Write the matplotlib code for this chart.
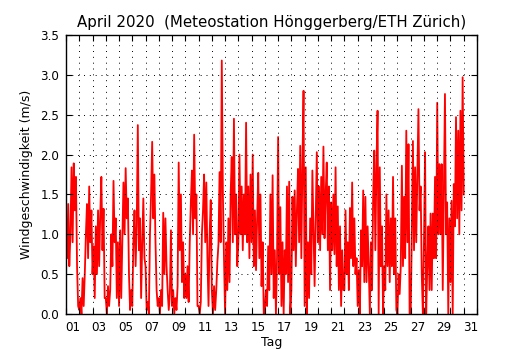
import numpy as np
import matplotlib
matplotlib.use('Agg')
import matplotlib.pyplot as plt
from matplotlib.ticker import MultipleLocator, FixedLocator, FixedFormatter, NullFormatter, FormatStrFormatter

apr01_05 = [1.2, 0.7, 1.38, 0.6, 1.0, 1.84, 0.9, 1.89, 1.3, 1.72, 0.6, 0.1,
            0.05, 0.2, 0.0, 0.45, 0.1, 0.5, 1.0, 1.38, 0.7, 1.6, 0.9, 1.3,
            0.5, 0.85, 0.2, 1.1, 0.5, 1.3, 0.6, 1.25, 1.72, 0.8, 1.32, 0.2,
            0.2, 0.0, 0.35, 0.1, 0.3, 1.0, 0.6, 1.67, 0.9, 1.2, 0.2, 0.9,
            0.1, 1.05, 0.2, 0.9, 1.65, 1.0, 1.83, 1.2, 1.45, 0.5, 0.05, 0.3]
apr06_10 = [0.1, 0.9, 1.3, 0.6, 1.1, 2.37, 0.8, 1.2, 0.2, 0.9, 1.45, 0.7,
            0.6, 0.05, 0.15, 0.0, 1.0, 1.5, 2.16, 1.2, 1.75, 0.9, 0.3, 0.1,
            0.2, 0.0, 0.3, 0.1, 1.27, 0.5, 1.2, 0.6, 0.3, 0.05, 0.25, 1.05,
            0.1, 0.3, 0.0, 0.2, 0.05, 0.35, 1.9, 0.8, 1.5, 0.4, 0.9, 0.2,
            0.5, 0.2, 0.6, 0.15, 0.9, 1.4, 1.8, 1.0, 2.25, 1.2, 1.5, 0.1]
apr11_15 = [0.1, 0.0, 0.15, 1.0, 1.3, 1.75, 0.9, 1.65, 0.7, 0.1, 1.0, 1.43,
            0.3, 0.0, 0.35, 0.05, 0.3, 0.65, 0.88, 1.78, 0.9, 3.18, 1.5, 0.7,
            0.0, 0.9, 0.3, 1.2, 0.4, 1.5, 1.97, 0.9, 2.45, 1.0, 1.5, 0.6,
            0.9, 2.0, 1.0, 1.6, 0.8, 1.5, 1.0, 2.4, 0.9, 1.6, 0.7, 1.75,
            0.9, 2.0, 0.6, 1.3, 0.55, 1.2, 1.77, 0.7, 1.5, 0.35, 0.9, 0.0]
apr16_20 = [0.05, 0.3, 0.1, 0.85, 0.3, 1.5, 0.5, 1.74, 0.2, 0.8, 0.0, 0.7,
            2.22, 0.5, 1.34, 0.1, 0.9, 0.0, 0.8, 0.5, 1.6, 0.4, 1.66, 0.0,
            0.3, 1.47, 0.8, 1.55, 0.6, 1.3, 1.82, 0.9, 2.11, 0.7, 1.88, 2.8,
            0.1, 1.84, 0.0, 0.9, 0.2, 1.2, 0.5, 1.8, 1.1, 0.35, 1.2, 2.03,
            0.9, 1.6, 0.8, 1.72, 1.0, 2.1, 0.95, 1.5, 1.9, 0.8, 1.6, 0.3]
apr21_25 = [1.4, 0.8, 1.5, 0.75, 1.84, 0.6, 1.35, 0.3, 1.1, 0.1, 0.8, 0.3,
            0.3, 1.3, 0.5, 0.9, 0.3, 1.33, 0.7, 1.65, 0.6, 1.2, 0.5, 0.7,
            0.1, 0.55, 0.0, 1.05, 0.6, 1.55, 0.4, 1.47, 0.4, 1.1, 0.6, 0.0,
            0.9, 0.3, 1.47, 2.05, 0.8, 1.88, 2.55, 0.0, 1.84, 0.6, 1.1, 0.0,
            0.6, 0.3, 1.5, 0.6, 1.3, 0.4, 1.2, 0.6, 1.72, 0.5, 1.2, 0.05]
apr26_30 = [0.0, 0.5, 0.25, 0.6, 1.86, 0.6, 1.47, 0.7, 2.3, 0.9, 2.13, 0.0,
            0.0, 1.0, 2.17, 0.8, 1.84, 0.9, 1.75, 2.57, 1.3, 1.6, 0.5, 0.0,
            0.9, 2.03, 0.0, 0.6, 1.1, 0.3, 1.26, 0.3, 1.26, 0.7, 1.72, 0.7,
            2.65, 1.0, 1.88, 1.0, 1.88, 0.3, 1.5, 2.76, 1.0, 1.4, 0.0, 1.2,
            0.4, 1.42, 0.0, 1.63, 1.1, 2.47, 1.2, 2.3, 1.0, 2.55, 1.3, 2.97,
            1.5]

wind = np.array(apr01_05 + apr06_10 + apr11_15 + apr16_20 + apr21_25 + apr26_30)
tage = np.arange(len(wind)) / 12.0

tag_labels = ['%02d' % d for d in range(1, 32, 2)]

fig = plt.figure(figsize=(5.3, 3.5), dpi=100)
ax = fig.add_axes((66 / 530, 36 / 350, 411 / 530, 279 / 350))

ax.plot(tage, wind, color='red', lw=1.3, solid_joinstyle='round', zorder=2)

ax.set_xlim(0, 31)
ax.set_ylim(0, 3.5)

ax.xaxis.set_major_locator(MultipleLocator(1))
ax.xaxis.set_major_formatter(NullFormatter())
ax.xaxis.set_minor_locator(FixedLocator(np.arange(0.5, 31, 2)))
ax.xaxis.set_minor_formatter(FixedFormatter(tag_labels))
ax.yaxis.set_major_locator(MultipleLocator(0.5))
ax.yaxis.set_major_formatter(FormatStrFormatter('%.1f'))

ax.tick_params(which='major', direction='in', top=True, right=True,
               length=4, width=0.8, labelsize=8.6, pad=5)
ax.tick_params(which='minor', length=0, labelsize=8.6, pad=5)

ax.set_axisbelow(False)
ax.grid(True, which='major', ls=(0, (1, 5)), color='k', lw=0.7)

for s in ax.spines.values():
    s.set_linewidth(1.0)

ax.set_xlabel('Tag', fontsize=9)
ax.xaxis.set_label_coords(0.5, -0.078)
ax.set_ylabel('Windgeschwindigkeit (m/s)', fontsize=9)
ax.yaxis.set_label_coords(-0.08, 0.5)
ax.set_title('April 2020  (Meteostation Hönggerberg/ETH Zürich)', fontsize=10.8, pad=6)

fig.savefig('out.png', dpi=100)
